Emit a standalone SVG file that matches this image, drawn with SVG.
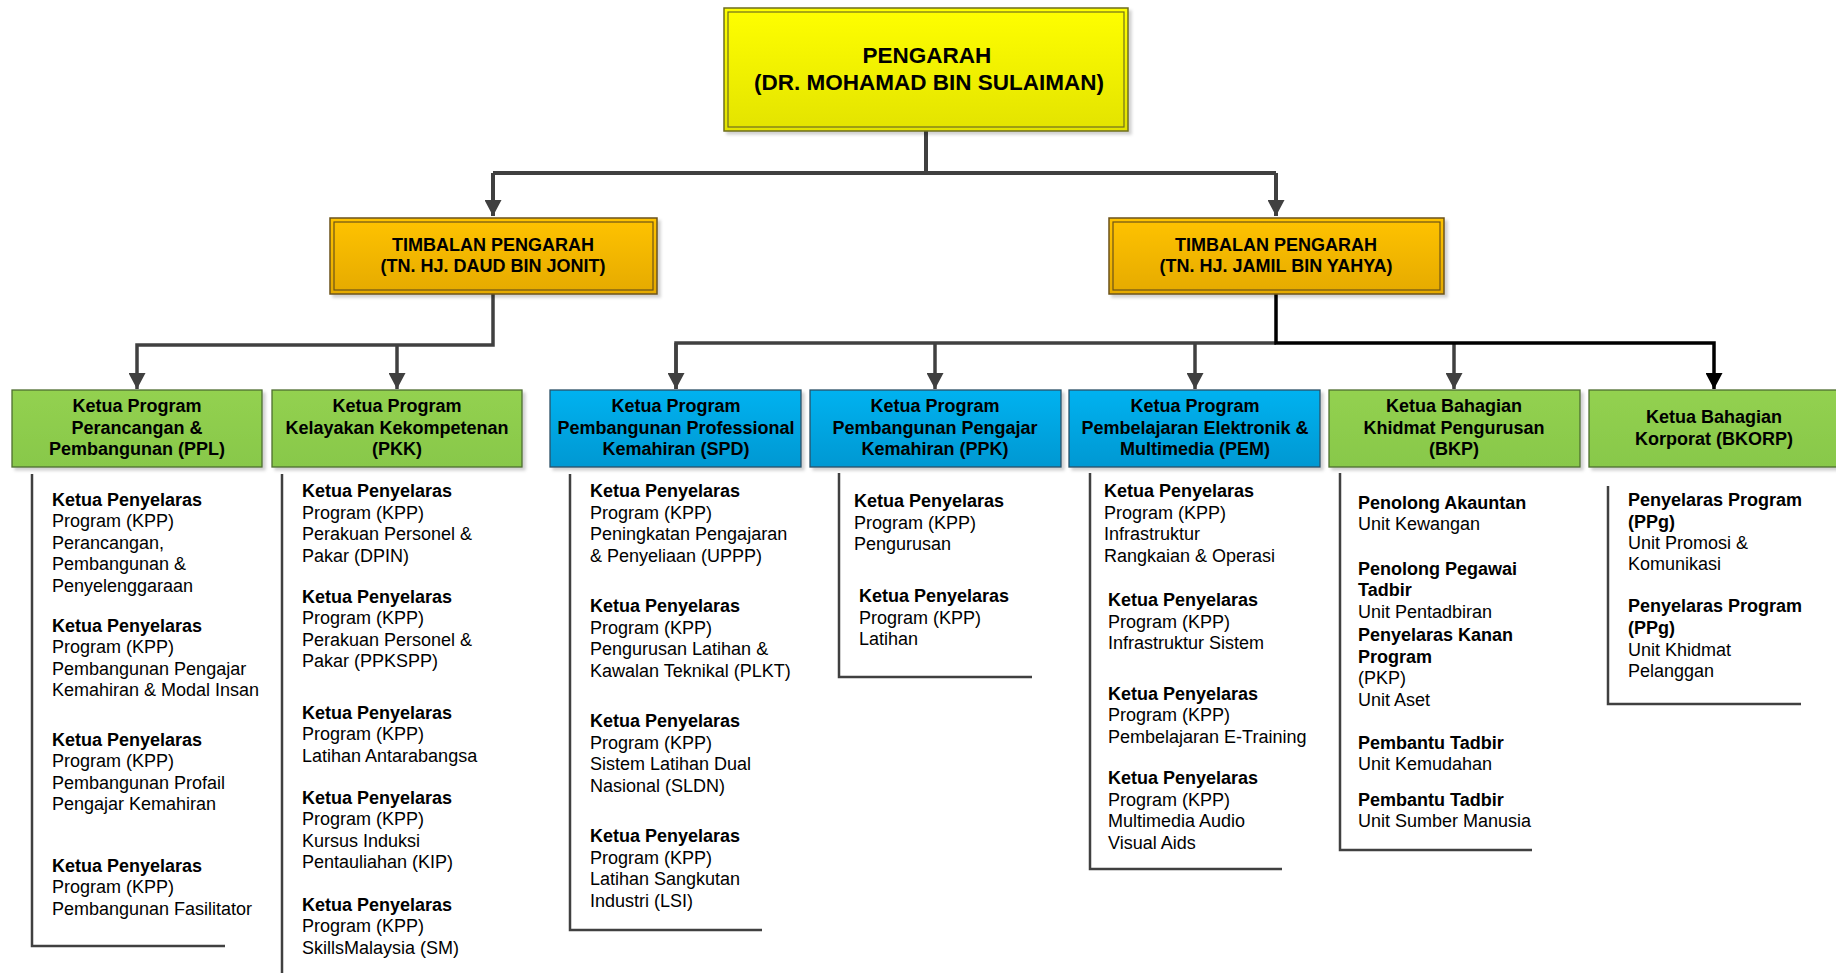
<svg xmlns="http://www.w3.org/2000/svg" width="1836" height="973" viewBox="0 0 1836 973">
<defs>
<linearGradient id="gY" x1="0" y1="0" x2="0" y2="1"><stop offset="0" stop-color="#FFFF00"/><stop offset="1" stop-color="#E3E300"/></linearGradient>
<linearGradient id="gO" x1="0" y1="0" x2="0" y2="1"><stop offset="0" stop-color="#FFC305"/><stop offset="1" stop-color="#E5AA00"/></linearGradient>
<linearGradient id="gG" x1="0" y1="0" x2="0" y2="1"><stop offset="0" stop-color="#93D150"/><stop offset="1" stop-color="#88C84A"/></linearGradient>
<linearGradient id="gB" x1="0" y1="0" x2="0" y2="1"><stop offset="0" stop-color="#00B2F0"/><stop offset="1" stop-color="#0098D2"/></linearGradient>
<filter id="sh" x="-5%" y="-5%" width="115%" height="125%"><feDropShadow dx="3" dy="3" stdDeviation="1.5" flood-color="#000" flood-opacity="0.18"/></filter>
<marker id="arG" markerUnits="userSpaceOnUse" markerWidth="17" markerHeight="17" refX="16" refY="8.5" orient="auto"><path d="M0,0 L16,8.5 L0,17 z" fill="#404040"/></marker>
<marker id="arK" markerUnits="userSpaceOnUse" markerWidth="17" markerHeight="17" refX="16" refY="8.5" orient="auto"><path d="M0,0 L16,8.5 L0,17 z" fill="#000"/></marker>
</defs>
<style>
.t{font-family:"Liberation Sans",Arial,sans-serif;font-size:18px;fill:#000}
.b{font-weight:bold}
.c{text-anchor:middle}
.big{font-size:22.5px}
.gl{fill:none;stroke:#404040;stroke-width:4}
.gl3{fill:none;stroke:#404040;stroke-width:3.5}
.kl{fill:none;stroke:#000;stroke-width:3.5}
.br{fill:none;stroke:#404040;stroke-width:2.5}
.inner{fill:none;stroke-width:1.2}
</style>

<g id="connectors">
<path class="gl" d="M926,131 V173 M493,173 H1276"/>
<path class="gl" d="M493,173 V216" marker-end="url(#arG)"/>
<path class="gl" d="M1276,173 V216" marker-end="url(#arG)"/>
<path class="gl3" d="M493,294 V345 H137 V389" marker-end="url(#arG)"/>
<path class="gl3" d="M397,345 V389" marker-end="url(#arG)"/>
<path class="gl3" d="M676,389 V343 H1276"/>
<path class="gl3" d="M676,343 V389" marker-end="url(#arG)"/>
<path class="gl3" d="M935,343 V389" marker-end="url(#arG)"/>
<path class="gl3" d="M1195,343 V389" marker-end="url(#arG)"/>
<path class="gl3" d="M1454,343 V389" marker-end="url(#arG)"/>
<path class="kl" d="M1276,294 V343 H1714 V389" marker-end="url(#arK)"/>
</g>

<g id="pengarah">
<rect x="724" y="8" width="404" height="123" fill="url(#gY)" stroke="#6E6E1E" stroke-width="1.5" filter="url(#sh)"/>
<rect class="inner" x="728" y="12" width="396" height="115" stroke="#6E6E1E"/>
<text class="t b c big" x="927" y="63">PENGARAH</text>
<text class="t b c big" x="929" y="90">(DR. MOHAMAD BIN SULAIMAN)</text>
</g>

<g id="timbalan1">
<rect x="330" y="218" width="327" height="76" fill="url(#gO)" stroke="#6B5318" stroke-width="1.5" filter="url(#sh)"/>
<rect class="inner" x="334" y="222" width="319" height="68" stroke="#6B5318"/>
<text class="t b c" x="493" y="251">TIMBALAN PENGARAH</text>
<text class="t b c" x="493" y="272">(TN. HJ. DAUD BIN JONIT)</text>
</g>

<g id="timbalan2">
<rect x="1109" y="218" width="335" height="76" fill="url(#gO)" stroke="#6B5318" stroke-width="1.5" filter="url(#sh)"/>
<rect class="inner" x="1113" y="222" width="327" height="68" stroke="#6B5318"/>
<text class="t b c" x="1276" y="251">TIMBALAN PENGARAH</text>
<text class="t b c" x="1276" y="272">(TN. HJ. JAMIL BIN YAHYA)</text>
</g>

<g id="ppl">
<rect x="12" y="390" width="250" height="77" fill="url(#gG)" stroke="#4E6E30" stroke-width="1.3" filter="url(#sh)"/>
<text class="t b c" x="137" y="412">Ketua Program</text>
<text class="t b c" x="137" y="433.5">Perancangan &amp;</text>
<text class="t b c" x="137" y="455">Pembangunan (PPL)</text>
<path class="br" d="M32,474 V946 H225"/>
<text class="t b" x="52" y="506">Ketua Penyelaras</text>
<text class="t" x="52" y="527">Program (KPP)</text>
<text class="t" x="52" y="548.5">Perancangan,</text>
<text class="t" x="52" y="570">Pembangunan &amp;</text>
<text class="t" x="52" y="591.5">Penyelenggaraan</text>
<text class="t b" x="52" y="632">Ketua Penyelaras</text>
<text class="t" x="52" y="653">Program (KPP)</text>
<text class="t" x="52" y="674.5">Pembangunan Pengajar</text>
<text class="t" x="52" y="696">Kemahiran &amp; Modal Insan</text>
<text class="t b" x="52" y="746">Ketua Penyelaras</text>
<text class="t" x="52" y="767">Program (KPP)</text>
<text class="t" x="52" y="788.5">Pembangunan Profail</text>
<text class="t" x="52" y="810">Pengajar Kemahiran</text>
<text class="t b" x="52" y="872">Ketua Penyelaras</text>
<text class="t" x="52" y="893">Program (KPP)</text>
<text class="t" x="52" y="914.5">Pembangunan Fasilitator</text>
</g>

<g id="pkk">
<rect x="272" y="390" width="250" height="77" fill="url(#gG)" stroke="#4E6E30" stroke-width="1.3" filter="url(#sh)"/>
<text class="t b c" x="397" y="412">Ketua Program</text>
<text class="t b c" x="397" y="433.5">Kelayakan Kekompetenan</text>
<text class="t b c" x="397" y="455">(PKK)</text>
<path class="br" d="M282,474 V980"/>
<text class="t b" x="302" y="497">Ketua Penyelaras</text>
<text class="t" x="302" y="518.5">Program (KPP)</text>
<text class="t" x="302" y="540">Perakuan Personel &amp;</text>
<text class="t" x="302" y="561.5">Pakar (DPIN)</text>
<text class="t b" x="302" y="603">Ketua Penyelaras</text>
<text class="t" x="302" y="624">Program (KPP)</text>
<text class="t" x="302" y="645.5">Perakuan Personel &amp;</text>
<text class="t" x="302" y="667">Pakar (PPKSPP)</text>
<text class="t b" x="302" y="718.5">Ketua Penyelaras</text>
<text class="t" x="302" y="740">Program (KPP)</text>
<text class="t" x="302" y="761.5">Latihan Antarabangsa</text>
<text class="t b" x="302" y="803.5">Ketua Penyelaras</text>
<text class="t" x="302" y="825">Program (KPP)</text>
<text class="t" x="302" y="846.5">Kursus Induksi</text>
<text class="t" x="302" y="868">Pentauliahan (KIP)</text>
<text class="t b" x="302" y="911">Ketua Penyelaras</text>
<text class="t" x="302" y="932">Program (KPP)</text>
<text class="t" x="302" y="953.5">SkillsMalaysia (SM)</text>
</g>

<g id="spd">
<rect x="550" y="390" width="251" height="77" fill="url(#gB)" stroke="#2A4F66" stroke-width="1.3" filter="url(#sh)"/>
<text class="t b c" x="676" y="412">Ketua Program</text>
<text class="t b c" x="676" y="433.5">Pembangunan Professional</text>
<text class="t b c" x="676" y="455">Kemahiran (SPD)</text>
<path class="br" d="M570,474 V930 H762"/>
<text class="t b" x="590" y="497">Ketua Penyelaras</text>
<text class="t" x="590" y="518.5">Program (KPP)</text>
<text class="t" x="590" y="540">Peningkatan Pengajaran</text>
<text class="t" x="590" y="561.5">&amp; Penyeliaan (UPPP)</text>
<text class="t b" x="590" y="612">Ketua Penyelaras</text>
<text class="t" x="590" y="633.5">Program (KPP)</text>
<text class="t" x="590" y="655">Pengurusan Latihan &amp;</text>
<text class="t" x="590" y="676.5">Kawalan Teknikal (PLKT)</text>
<text class="t b" x="590" y="727">Ketua Penyelaras</text>
<text class="t" x="590" y="748.5">Program (KPP)</text>
<text class="t" x="590" y="770">Sistem Latihan Dual</text>
<text class="t" x="590" y="791.5">Nasional (SLDN)</text>
<text class="t b" x="590" y="842">Ketua Penyelaras</text>
<text class="t" x="590" y="863.5">Program (KPP)</text>
<text class="t" x="590" y="885">Latihan Sangkutan</text>
<text class="t" x="590" y="906.5">Industri (LSI)</text>
</g>

<g id="ppk">
<rect x="810" y="390" width="251" height="77" fill="url(#gB)" stroke="#2A4F66" stroke-width="1.3" filter="url(#sh)"/>
<text class="t b c" x="935" y="412">Ketua Program</text>
<text class="t b c" x="935" y="433.5">Pembangunan Pengajar</text>
<text class="t b c" x="935" y="455">Kemahiran (PPK)</text>
<path class="br" d="M839,473 V677 H1032"/>
<text class="t b" x="854" y="507">Ketua Penyelaras</text>
<text class="t" x="854" y="528.5">Program (KPP)</text>
<text class="t" x="854" y="550">Pengurusan</text>
<text class="t b" x="859" y="602">Ketua Penyelaras</text>
<text class="t" x="859" y="623.5">Program (KPP)</text>
<text class="t" x="859" y="645">Latihan</text>
</g>

<g id="pem">
<rect x="1069" y="390" width="251" height="77" fill="url(#gB)" stroke="#2A4F66" stroke-width="1.3" filter="url(#sh)"/>
<text class="t b c" x="1195" y="412">Ketua Program</text>
<text class="t b c" x="1195" y="433.5">Pembelajaran Elektronik &amp;</text>
<text class="t b c" x="1195" y="455">Multimedia (PEM)</text>
<path class="br" d="M1090,473 V869 H1282"/>
<text class="t b" x="1104" y="497">Ketua Penyelaras</text>
<text class="t" x="1104" y="518.5">Program (KPP)</text>
<text class="t" x="1104" y="540">Infrastruktur</text>
<text class="t" x="1104" y="561.5">Rangkaian &amp; Operasi</text>
<text class="t b" x="1108" y="606">Ketua Penyelaras</text>
<text class="t" x="1108" y="627.5">Program (KPP)</text>
<text class="t" x="1108" y="649">Infrastruktur Sistem</text>
<text class="t b" x="1108" y="699.5">Ketua Penyelaras</text>
<text class="t" x="1108" y="721">Program (KPP)</text>
<text class="t" x="1108" y="742.5">Pembelajaran E-Training</text>
<text class="t b" x="1108" y="784">Ketua Penyelaras</text>
<text class="t" x="1108" y="805.5">Program (KPP)</text>
<text class="t" x="1108" y="827">Multimedia Audio</text>
<text class="t" x="1108" y="848.5">Visual Aids</text>
</g>

<g id="bkp">
<rect x="1329" y="390" width="251" height="77" fill="url(#gG)" stroke="#4E6E30" stroke-width="1.3" filter="url(#sh)"/>
<text class="t b c" x="1454" y="412">Ketua Bahagian</text>
<text class="t b c" x="1454" y="433.5">Khidmat Pengurusan</text>
<text class="t b c" x="1454" y="455">(BKP)</text>
<path class="br" d="M1340,473 V850 H1532"/>
<text class="t b" x="1358" y="508.5">Penolong Akauntan</text>
<text class="t" x="1358" y="530">Unit Kewangan</text>
<text class="t b" x="1358" y="574.5">Penolong Pegawai</text>
<text class="t b" x="1358" y="596">Tadbir</text>
<text class="t" x="1358" y="618">Unit Pentadbiran</text>
<text class="t b" x="1358" y="641">Penyelaras Kanan</text>
<text class="t b" x="1358" y="662.5">Program</text>
<text class="t" x="1358" y="684">(PKP)</text>
<text class="t" x="1358" y="705.5">Unit Aset</text>
<text class="t b" x="1358" y="748.5">Pembantu Tadbir</text>
<text class="t" x="1358" y="770">Unit Kemudahan</text>
<text class="t b" x="1358" y="805.5">Pembantu Tadbir</text>
<text class="t" x="1358" y="827">Unit Sumber Manusia</text>
</g>

<g id="bkorp">
<rect x="1589" y="390" width="252" height="77" fill="url(#gG)" stroke="#4E6E30" stroke-width="1.3" filter="url(#sh)"/>
<text class="t b c" x="1714" y="423">Ketua Bahagian</text>
<text class="t b c" x="1714" y="445">Korporat (BKORP)</text>
<path class="br" d="M1608,486 V704 H1801"/>
<text class="t b" x="1628" y="506">Penyelaras Program</text>
<text class="t b" x="1628" y="527.5">(PPg)</text>
<text class="t" x="1628" y="548.5">Unit Promosi &amp;</text>
<text class="t" x="1628" y="570">Komunikasi</text>
<text class="t b" x="1628" y="612">Penyelaras Program</text>
<text class="t b" x="1628" y="633.5">(PPg)</text>
<text class="t" x="1628" y="655.5">Unit Khidmat</text>
<text class="t" x="1628" y="677">Pelanggan</text>
</g>
</svg>
